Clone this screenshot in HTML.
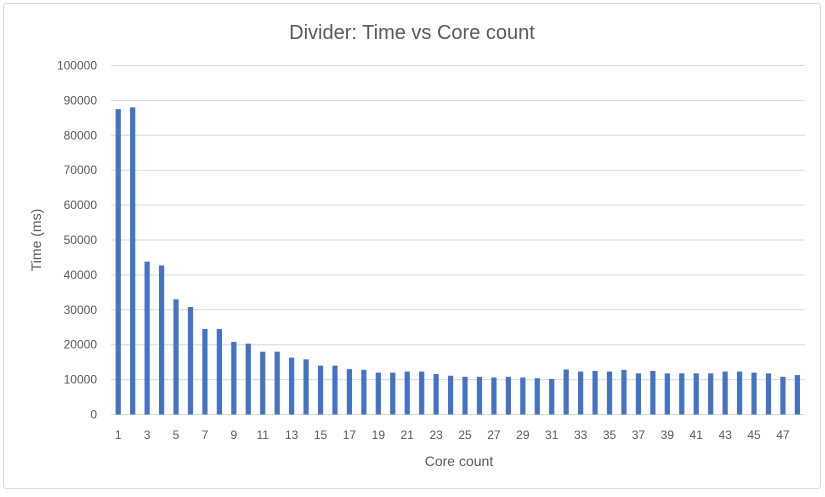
<!DOCTYPE html>
<html><head><meta charset="utf-8"><style>
html,body{margin:0;padding:0;background:#fff;}
svg text{font-family:"Liberation Sans",sans-serif;fill:#595959;}
</style></head><body>
<svg width="825" height="492" viewBox="0 0 825 492" xmlns="http://www.w3.org/2000/svg">
<rect x="3.5" y="3.5" width="817" height="485" rx="3" fill="#fff" stroke="#d9d9d9" stroke-width="1"/>
<text x="412" y="39" font-size="20" text-anchor="middle">Divider: Time vs Core count</text>
<g id="grid" stroke="#d9d9d9" stroke-width="1"></g>
<g id="ylab" font-size="12"></g>
<g id="bars" fill="#4472c4"></g>
<g id="xlab" font-size="12"></g>
<text x="459" y="466" font-size="14" text-anchor="middle">Core count</text>
<text transform="translate(41,240) rotate(-90)" font-size="14" text-anchor="middle">Time (ms)</text>
</svg>
<script>
var ns="http://www.w3.org/2000/svg";
function el(p,t,a,txt){var e=document.createElementNS(ns,t);for(var k in a)e.setAttribute(k,a[k]);if(txt!=null)e.textContent=txt;document.getElementById(p).appendChild(e);}
var y0=414.5,s=0.00349,x0=111,cw=14.45;
for(var i=0;i<=10;i++){var y=y0-i*10000*s;el("grid","line",{x1:x0,x2:805,y1:y,y2:y});el("ylab","text",{x:97,y:y+4,"text-anchor":"end"},String(i*10000));}
var v=[87500,88000,43800,42700,33000,30800,24500,24500,20800,20300,18000,18000,16300,15800,14000,14000,13000,12800,12000,12000,12300,12300,11600,11100,10800,10800,10600,10800,10600,10400,10200,12900,12300,12500,12300,12800,11800,12500,11800,11800,11800,11800,12300,12300,12000,11800,10800,11300];
for(var j=0;j<v.length;j++){var cx=x0+cw*(j+0.5),h=v[j]*s;el("bars","rect",{x:cx-2.6,y:y0-h,width:5.2,height:h});if(j%2==0)el("xlab","text",{x:cx,y:439,"text-anchor":"middle"},String(j+1));}
</script>
</body></html>
